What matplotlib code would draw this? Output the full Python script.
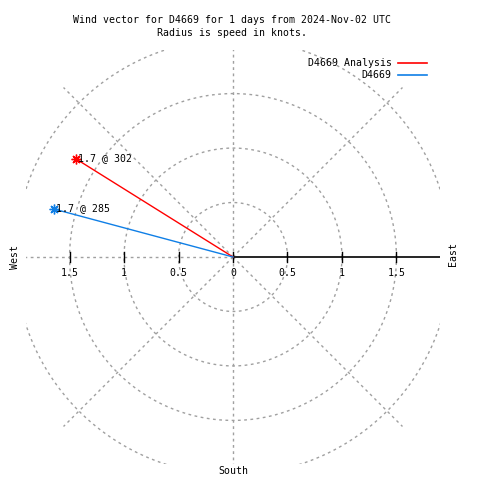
import numpy as np
import matplotlib
matplotlib.use("Agg")
import matplotlib.pyplot as plt

# wind vectors: one per source
NAMES = ["D4669 Analysis", "D4669"]
SPEEDS = [1.7, 1.7]          # knots
DIRS = [302, 285]            # degrees, meteorological (from north, clockwise)
COLORS = ["#ff0000", "#0f7fe6"]

RINGS = [0.5, 1.0, 1.5, 2.0]
RTICKS = [0.5, 1.0, 1.5]
RMAX = 1.9

GRID = "#a0a0a0"
DASH = (0, (2, 2.5))
FONT = "DejaVu Sans Mono"
FS = 7.1

fig = plt.figure(figsize=(4.8, 4.8), dpi=100)
# centre of the polar plot sits at pixel (233, 257)
ax = fig.add_axes([26 / 480, 16 / 480, 414 / 480, 414 / 480])
ax.set_xlim(-RMAX, RMAX)
ax.set_ylim(-RMAX, RMAX)
ax.set_aspect("equal")
ax.axis("off")

# range rings
t = np.linspace(0, 2 * np.pi, 400)
for r in RINGS:
    ax.plot(r * np.cos(t), r * np.sin(t), color=GRID, lw=1, ls=DASH)

# radial grid lines every 45 deg (0 deg is the solid r-axis)
for a in range(45, 360, 45):
    ar = np.radians(a)
    ax.plot([0, 2.2 * np.cos(ar)], [0, 2.2 * np.sin(ar)], color=GRID, lw=1, ls=DASH)

# r axis + tick marks
ax.plot([0, RMAX], [0, 0], color="black", lw=1.2, solid_capstyle="butt")
tick_x = [0] + RTICKS + [-v for v in RTICKS]
for x in tick_x:
    ax.plot([x, x], [-0.045, 0.045], color="black", lw=1)

# tick labels on both sides of the centre
lab_y = -0.15
ax.text(0, lab_y, "0", ha="center", va="center", family=FONT, fontsize=FS)
for v in RTICKS:
    s = f"{v:g}"
    ax.text(-v, lab_y, s, ha="center", va="center", family=FONT, fontsize=FS)
    ax.text(v, lab_y, s, ha="center", va="center", family=FONT, fontsize=FS)

# compass labels
ax.text(-2.0, 0, "West", rotation=90, ha="center", va="center",
        family=FONT, fontsize=FS, clip_on=False)
ax.text(2.015, 0.03, "East", rotation=90, ha="center", va="center",
        family=FONT, fontsize=FS, clip_on=False)
ax.text(0, -1.965, "South", ha="center", va="center",
        family=FONT, fontsize=FS, clip_on=False)

# wind vectors
for name, spd, d, c in zip(NAMES, SPEEDS, DIRS, COLORS):
    th = np.radians(d)
    x, y = spd * np.sin(th), spd * np.cos(th)
    ax.plot([0, x], [0, y], color=c, lw=1)
    ax.plot([x], [y], marker=(8, 2, 0), color=c, markersize=7, mew=1)
    ax.text(x + 0.02, y + 0.005, f"{spd:.1f} @ {d}", ha="left", va="center",
            family=FONT, fontsize=FS)

# legend (gnuplot style: right-aligned text, line sample on the right)
for i, (name, c) in enumerate(zip(NAMES, COLORS)):
    ly = 1.78 - i * 0.11
    ax.text(1.455, ly, name, ha="right", va="center", family=FONT, fontsize=FS)
    ax.plot([1.51, 1.78], [ly, ly], color=c, lw=1.2)

fig.text(232 / 480, 1 - 20 / 480, "Wind vector for D4669 for 1 days from 2024-Nov-02 UTC",
         ha="center", va="center", family=FONT, fontsize=FS)
fig.text(232 / 480, 1 - 33 / 480, "Radius is speed in knots.",
         ha="center", va="center", family=FONT, fontsize=FS)

fig.savefig("out.png", dpi=100)
